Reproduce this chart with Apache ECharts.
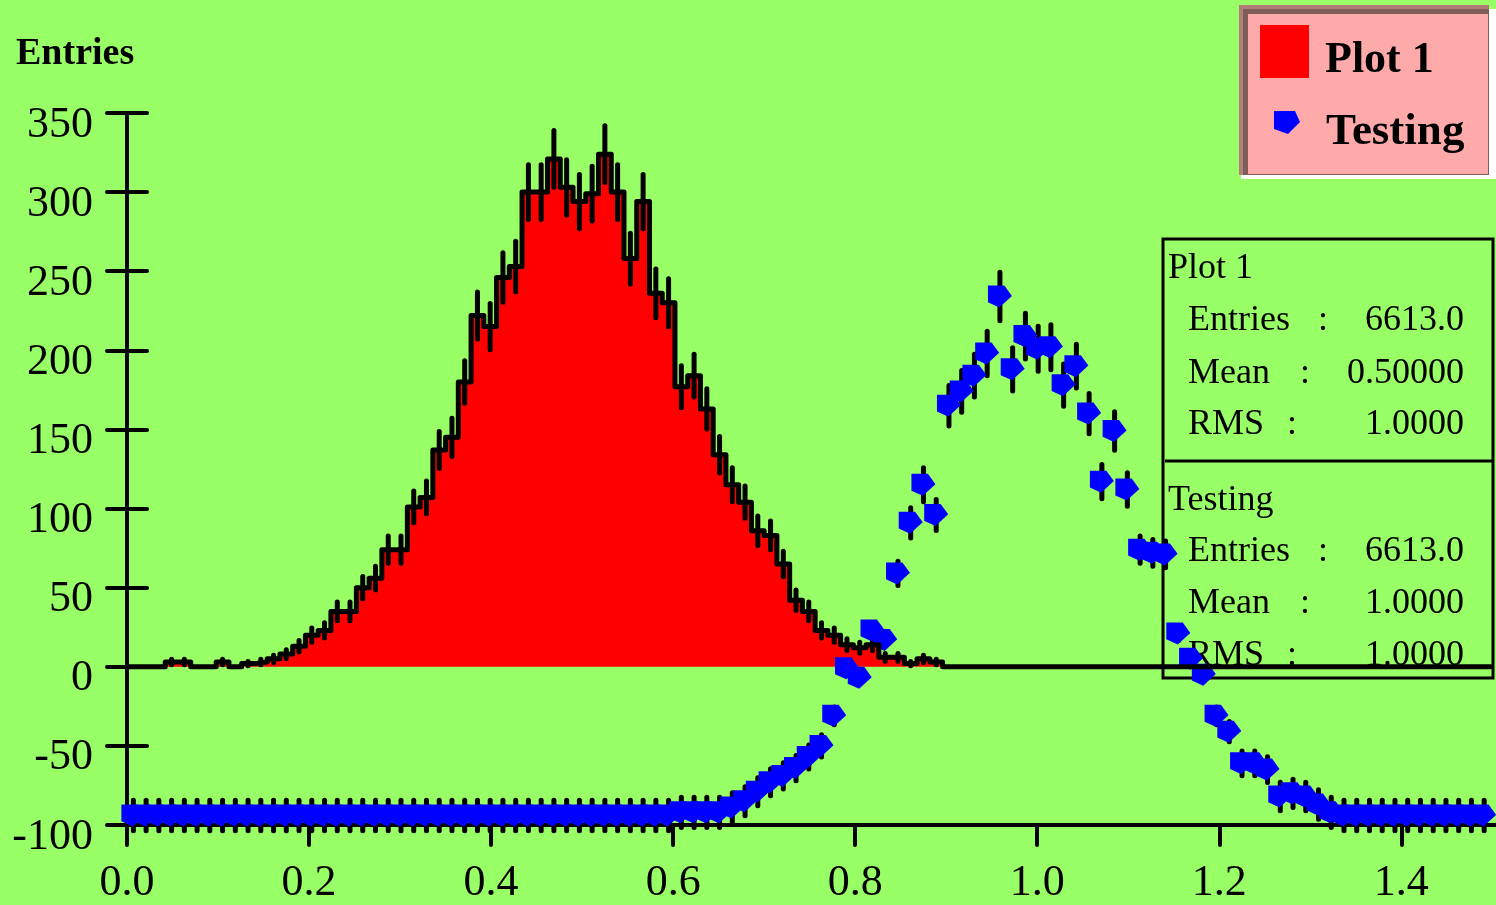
<!DOCTYPE html>
<html>
<head>
<meta charset="utf-8">
<script src="https://cdn.jsdelivr.net/npm/echarts@6/dist/echarts.min.js"></script>
<style>
  html, body { margin: 0; padding: 0; background: #99FF66; }
  #main { width: 1496px; height: 905px; }
</style>
</head>
<body>
<div id="main"></div>
<script>
// bins are 0.014 wide, starting at 0
var binWidth = 0.014;
var xTicks = [0, 0.2, 0.4, 0.6, 0.8, 1.0, 1.2, 1.4];

// Plot 1 : red histogram (counts per bin)
var plot1Counts = [
    0, 0, 0, 3, 3, 0, 0, 3, 0, 2,
    3, 5, 8, 13, 20, 23, 35, 35, 50, 56,
    74, 74, 101, 107, 137, 145, 180, 222, 215, 246,
    253, 300, 300, 321, 303, 294, 299, 324, 300, 258,
    294, 236, 230, 177, 184, 163, 134, 115, 104, 86,
    83, 65, 42, 35, 23, 20, 14, 12, 14, 6,
    6, 2, 5, 3, 0, 0, 0, 0, 0, 0,
    0, 0, 0, 0, 0, 0, 0, 0, 0, 0,
    0, 0, 0, 0, 0, 0, 0, 0, 0, 0,
    0, 0, 0, 0, 0, 0, 0, 0, 0, 0,
    0, 0, 0, 0, 0, 0, 0
];

// Testing : blue points (value per bin)
var testingValues = [
    -94, -94, -94, -94, -94, -94, -94, -94, -94, -94,
    -94, -94, -94, -94, -94, -94, -94, -94, -94, -94,
    -94, -94, -94, -94, -94, -94, -94, -94, -94, -94,
    -94, -94, -94, -94, -94, -94, -94, -94, -94, -94,
    -94, -94, -94, -92, -92, -92, -92, -89, -85, -79,
    -73, -69, -64, -57, -50, -31, -1, -7, 23, 17,
    59, 91, 115, 96, 165, 174, 184, 198, 234, 188,
    209, 201, 202, 178, 190, 160, 117, 149, 112, 74,
    72, 71, 21, 5, -5, -31, -41, -61, -61, -65,
    -82, -80, -82, -87, -92, -94, -94, -94, -94, -94,
    -94, -94, -94, -94, -94, -94, -94
];

var statTitles = ['Plot 1', 'Testing'];
var statLabels = ['Entries', 'Mean', 'RMS'];
var plot1Stats = ['6613.0', '0.50000', '1.0000'];
var testingStats = ['6613.0', '1.0000', '1.0000'];

var serif = '"Liberation Serif", "DejaVu Serif", serif';

// step line points on bin edges
var histEdges = [];
for (var i = 0; i < plot1Counts.length; i++) {
    histEdges.push([i * binWidth, plot1Counts[i]]);
}
histEdges.push([plot1Counts.length * binWidth, plot1Counts[plot1Counts.length - 1]]);

var histErr = plot1Counts.map(function (v, i) {
    return [(i + 0.5) * binWidth, v, Math.sqrt(v)];
});
var testErr = testingValues.map(function (v, i) {
    return [(i + 0.5) * binWidth, v, Math.sqrt(Math.abs(v))];
});
var testPts = testingValues.map(function (v, i) {
    return [(i + 0.5) * binWidth, v];
});

function errorBars(width) {
    return function (params, api) {
        var v = api.value(1), e = api.value(2);
        if (e <= 0) return null;
        var p1 = api.coord([api.value(0), v - e]);
        var p2 = api.coord([api.value(0), v + e]);
        return {
            type: 'line',
            shape: { x1: p1[0], y1: p1[1], x2: p2[0], y2: p2[1] },
            style: { stroke: '#000', lineWidth: width, lineCap: 'round' }
        };
    };
}

var statsFont = '36px ' + serif;
var statsGraphics = [
    { type: 'rect', z: 1, shape: { x: 1163, y: 239, width: 330, height: 439 },
      style: { fill: 'none', stroke: '#000', lineWidth: 3 } },
    { type: 'line', z: 1, shape: { x1: 1165, y1: 461, x2: 1493, y2: 461 },
      style: { stroke: '#000', lineWidth: 3 } }
];
var rowY = [[269, 321, 374, 425], [501, 552, 604, 656]];
var colonX = [1318, 1300, 1287];
[plot1Stats, testingStats].forEach(function (vals, b) {
    statsGraphics.push({ type: 'text', z: 1, x: 1168, y: rowY[b][0],
        style: { text: statTitles[b], font: statsFont, fill: '#000', verticalAlign: 'middle' } });
    for (var k = 0; k < 3; k++) {
        statsGraphics.push({ type: 'text', z: 1, x: 1188, y: rowY[b][k + 1],
            style: { text: statLabels[k], font: statsFont, fill: '#000', verticalAlign: 'middle' } });
        statsGraphics.push({ type: 'text', z: 1, x: colonX[k], y: rowY[b][k + 1],
            style: { text: ':', font: statsFont, fill: '#000', verticalAlign: 'middle' } });
        statsGraphics.push({ type: 'text', z: 1, x: 1464, y: rowY[b][k + 1],
            style: { text: vals[k], font: statsFont, fill: '#000', align: 'right', verticalAlign: 'middle' } });
    }
});

var legendGraphics = [
    { type: 'rect', z: 100, shape: { x: 1241, y: 9, width: 255, height: 170 }, style: { fill: '#FFFFFF' } },
    { type: 'rect', z: 100, shape: { x: 1239, y: 5, width: 250, height: 170 }, style: { fill: '#B47E78' } },
    { type: 'rect', z: 100, shape: { x: 1243, y: 9, width: 246, height: 166 }, style: { fill: '#7E5C57' } },
    { type: 'rect', z: 100, shape: { x: 1248, y: 14, width: 240, height: 160 }, style: { fill: '#FFAAAA' } },
    { type: 'rect', z: 101, shape: { x: 1260, y: 25, width: 49, height: 53 }, style: { fill: '#FF0000' } },
    { type: 'polygon', z: 101, shape: { points: [[1274, 111], [1295, 111], [1300, 122], [1288, 134], [1274, 129]] },
      style: { fill: '#0000FF' } },
    { type: 'text', z: 101, x: 1325, y: 61,
      style: { text: 'Plot 1', font: 'bold 44px ' + serif, fill: '#000', verticalAlign: 'middle' } },
    { type: 'text', z: 101, x: 1326, y: 132,
      style: { text: 'Testing', font: 'bold 45px ' + serif, fill: '#000', verticalAlign: 'middle' } }
];

var chart = echarts.init(document.getElementById('main'));

var option = {
    backgroundColor: '#99FF66',
    animation: false,
    grid: { left: 127, right: 0, top: 113, bottom: 77 },
    xAxis: {
        type: 'value', min: 0, max: 1.504,
        axisLine: { onZero: false, lineStyle: { color: '#000', width: 4 } },
        axisTick: { length: 20, customValues: xTicks, lineStyle: { color: '#000', width: 4, cap: 'round' } },
        axisLabel: {
            customValues: xTicks, margin: 36, color: '#000',
            fontFamily: serif, fontSize: 44,
            formatter: function (v) { return v.toFixed(1); }
        },
        splitLine: { show: false }
    },
    yAxis: [{
        type: 'value', min: -100, max: 350, interval: 50,
        axisLine: { show: true, lineStyle: { color: '#000', width: 4 } },
        axisTick: { length: 20, lineStyle: { color: '#000', width: 4, cap: 'round' } },
        axisLabel: {
            margin: 34, color: '#000', fontFamily: serif, fontSize: 44,
            verticalAlign: 'top', lineHeight: 24
        },
        splitLine: { show: false }
    }, {
        type: 'value', min: -100, max: 350, interval: 50, position: 'left',
        axisLine: { show: false },
        axisTick: { show: true, inside: true, length: 20, lineStyle: { color: '#000', width: 4, cap: 'round' } },
        axisLabel: { show: false },
        splitLine: { show: false }
    }],
    graphic: statsGraphics.concat(legendGraphics).concat([
        { type: 'text', left: 16, top: 35,
          style: { text: 'Entries', font: 'bold 38px ' + serif, fill: '#000' } }
    ]),
    series: [
        {
            name: 'Plot 1 fill', type: 'line', step: 'end', data: histEdges, z: 2,
            symbol: 'none', lineStyle: { width: 0 },
            areaStyle: { color: '#FF0000', opacity: 1 }
        },
        {
            name: 'Plot 1 errors', type: 'custom', data: histErr, z: 3,
            renderItem: errorBars(5)
        },
        {
            name: 'Testing errors', type: 'custom', data: testErr, z: 4,
            renderItem: errorBars(5)
        },
        {
            name: 'Testing', type: 'scatter', data: testPts, z: 5,
            symbol: 'path://M0,0 L13,0 L19,8 L9,17 L0,13 Z', symbolSize: [24, 22],
            itemStyle: { color: '#0000FF', opacity: 1 }
        },
        {
            name: 'Plot 1', type: 'line', step: 'end', data: histEdges, z: 6,
            symbol: 'none', lineStyle: { color: '#000', width: 5, cap: 'round', join: 'round' }
        }
    ]
};

chart.setOption(option);
</script>
</body>
</html>
